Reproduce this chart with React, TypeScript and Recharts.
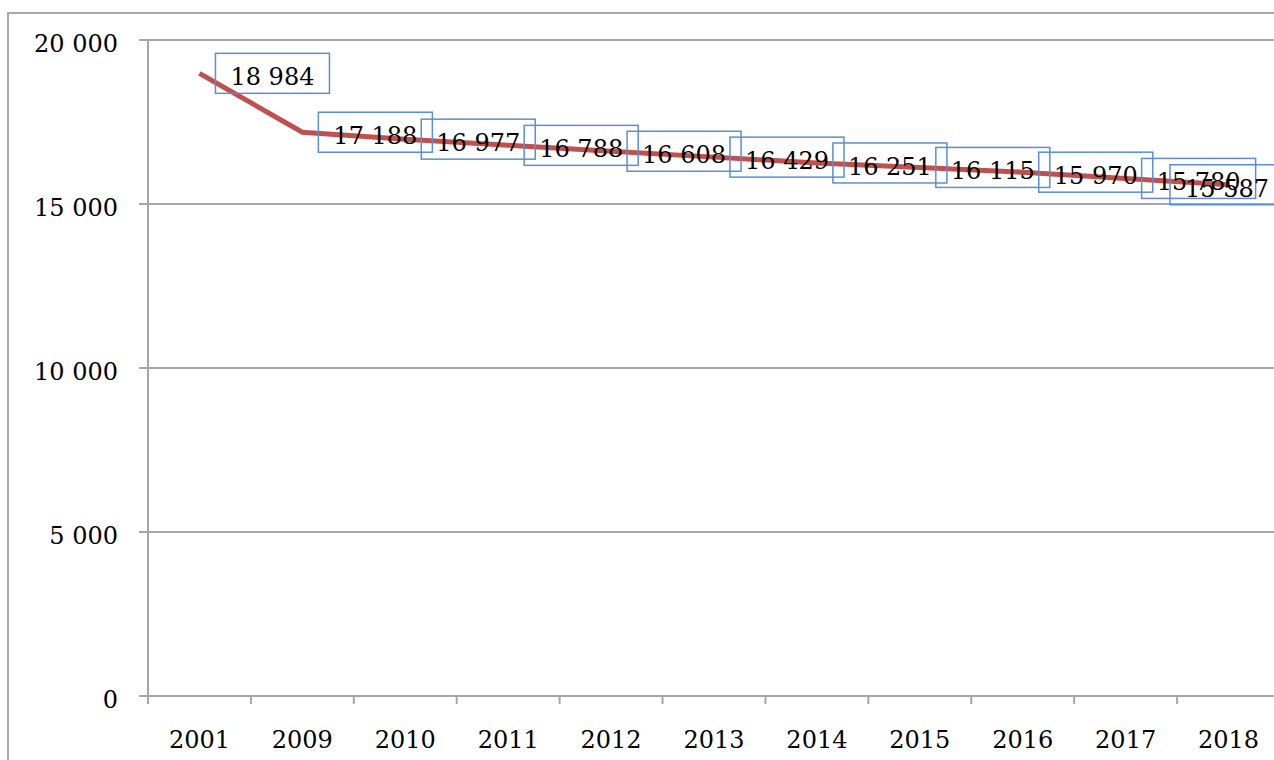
import { LineChart, Line, XAxis, YAxis, CartesianGrid, LabelList } from "recharts"

const years = ["2001", "2009", "2010", "2011", "2012", "2013", "2014", "2015", "2016", "2017", "2018"]
const values = [18984, 17188, 16977, 16788, 16608, 16429, 16251, 16115, 15970, 15780, 15587]
const yTicks = [0, 5000, 10000, 15000, 20000]

const data = years.map((year, i) => ({ year, value: values[i] }))

const FONT = "'DejaVu Serif', serif"
const W = 1277
const H = 790
const MARGIN = { top: 26, right: 6, bottom: 0, left: 0 }
const Y_AXIS_W = 139
const PLOT_W = W - MARGIN.left - MARGIN.right - Y_AXIS_W
const STEP = PLOT_W / years.length

const BOX_W = 114
const BOX_H = 40

const fmt = (v: number) => v.toLocaleString("en-US").replace(/,/g, " ")

function YearTick({ x, y, payload }: any) {
  const left = x - STEP / 2
  return (
    <g>
      <line x1={left} y1={y} x2={left} y2={y + 8} stroke="#a6a6a6" strokeWidth={2} />
      <text x={x} y={y + 52} textAnchor="middle" fontFamily={FONT} fontSize={24} fill="#000">
        {payload.value}
      </text>
    </g>
  )
}

function ValueTick({ x, y, payload }: any) {
  return (
    <text x={x} y={y + 12} textAnchor="end" fontFamily={FONT} fontSize={24} fill="#000">
      {fmt(payload.value)}
    </text>
  )
}

function BoxLabel({ x, y, value }: any) {
  // labels sit to the right of the point, pushed back in when they hit the chart edge
  const bx = Math.min(x + 16, W - 2 - BOX_W)
  const by = y - BOX_H / 2
  return (
    <g>
      <rect x={bx} y={by} width={BOX_W} height={BOX_H} fill="none" stroke="#5b8fd0" strokeWidth={1.5} />
      <text x={bx + BOX_W / 2} y={by + 32} textAnchor="middle" fontFamily={FONT} fontSize={24} fill="#000">
        {fmt(value)}
      </text>
    </g>
  )
}

export default function App() {
  return (
    <div style={{ position: "fixed", left: 0, top: 0, width: 1274, height: 760, overflow: "hidden", background: "#fff" }}>
      <div
        style={{
          position: "absolute",
          left: 7,
          top: 12,
          width: W,
          height: H,
          border: "2px solid #a8a8a8",
          background: "#fff",
        }}
      >
        <LineChart width={W} height={H} data={data} margin={MARGIN}>
          <CartesianGrid vertical={false} stroke="#a6a6a6" strokeWidth={2} />
          <XAxis
            dataKey="year"
            scale="band"
            height={H - MARGIN.top - 656}
            tickSize={0}
            tickMargin={0}
            tick={<YearTick />}
            axisLine={{ stroke: "#a6a6a6", strokeWidth: 2 }}
            interval={0}
          />
          <YAxis
            domain={[0, 20000]}
            ticks={yTicks}
            width={Y_AXIS_W}
            tickSize={9}
            tickMargin={21}
            tick={<ValueTick />}
            tickLine={{ stroke: "#a6a6a6", strokeWidth: 2 }}
            axisLine={{ stroke: "#a6a6a6", strokeWidth: 2 }}
          />
          <Line
            type="linear"
            dataKey="value"
            stroke="#c0504d"
            strokeWidth={5}
            dot={false}
            isAnimationActive={false}
          >
            <LabelList dataKey="value" content={<BoxLabel />} />
          </Line>
        </LineChart>
      </div>
    </div>
  )
}
